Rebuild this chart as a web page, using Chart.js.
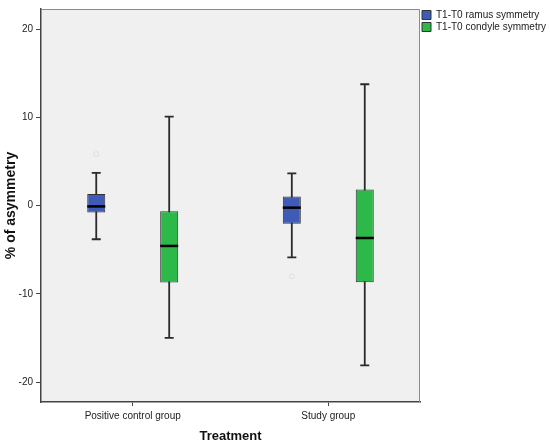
<!DOCTYPE html>
<html>
<head>
<meta charset="utf-8">
<script src="https://cdn.jsdelivr.net/npm/chart.js@4"></script>
<style>
  body { margin: 0; background: #fff; }
</style>
</head>
<body>
<canvas id="box-chart" width="550" height="448"></canvas>
<script>
// groups on the x axis
const groups = ['Positive control group', 'Study group'];
const groupIndex = [0, 1];
const yTicks = [-20, -10, 0, 10, 20];

// T1-T0 ramus symmetry
const ramusMin = [-3.8, -5.85];
const ramusQ1 = [-0.78, -2.04];
const ramusMedian = [-0.08, -0.22];
const ramusQ3 = [1.32, 1.05];
const ramusMax = [3.72, 3.67];
const ramusOutliers = [[5.85], [-8.0]];

// T1-T0 condyle symmetry
const condyleMin = [-14.97, -18.1];
const condyleQ1 = [-8.71, -8.67];
const condyleMedian = [-4.56, -3.66];
const condyleQ3 = [-0.64, 1.84];
const condyleMax = [10.1, 13.77];
const condyleOutliers = [[], []];

// background, frame, whiskers and medians drawn with the chart scales
const boxPlot = {
  id: 'boxPlot',
  beforeDraw(chart) {
    const {ctx, chartArea: a} = chart;
    ctx.save();
    ctx.fillStyle = '#f0f0f0';
    ctx.fillRect(a.left, a.top, a.right - a.left, a.bottom - a.top);
    ctx.restore();
  },
  beforeDatasetsDraw(chart) {
    const {ctx} = chart;
    const y = chart.scales.y;
    ctx.save();
    chart.data.datasets.forEach((ds, di) => {
      const meta = chart.getDatasetMeta(di);
      meta.data.forEach((bar, i) => {
        const cap = bar.width / 2;
        const top = y.getPixelForValue(ds.whiskerMax[i]);
        const bottom = y.getPixelForValue(ds.whiskerMin[i]);
        ctx.strokeStyle = '#2a2a2a';
        ctx.lineWidth = 1.8;
        ctx.beginPath();
        ctx.moveTo(bar.x, top);
        ctx.lineTo(bar.x, bottom);
        ctx.moveTo(bar.x - cap / 2, top);
        ctx.lineTo(bar.x + cap / 2, top);
        ctx.moveTo(bar.x - cap / 2, bottom);
        ctx.lineTo(bar.x + cap / 2, bottom);
        ctx.stroke();
        ds.outliers[i].forEach(v => {
          ctx.strokeStyle = '#e0e0e0';
          ctx.lineWidth = 1;
          ctx.beginPath();
          ctx.arc(bar.x, y.getPixelForValue(v), 2.5, 0, Math.PI * 2);
          ctx.stroke();
        });
      });
    });
    ctx.restore();
  },
  afterDatasetsDraw(chart) {
    const {ctx, chartArea: a} = chart;
    const y = chart.scales.y;
    ctx.save();
    chart.data.datasets.forEach((ds, di) => {
      const meta = chart.getDatasetMeta(di);
      meta.data.forEach((bar, i) => {
        const py = y.getPixelForValue(ds.median[i]);
        ctx.strokeStyle = '#000';
        ctx.lineWidth = 2.5;
        ctx.beginPath();
        ctx.moveTo(bar.x - bar.width / 2, py);
        ctx.lineTo(bar.x + bar.width / 2, py);
        ctx.stroke();
      });
    });
    ctx.strokeStyle = '#8a8a8a';
    ctx.lineWidth = 1;
    ctx.beginPath();
    ctx.moveTo(a.left, a.top + 0.5);
    ctx.lineTo(a.right - 0.5, a.top + 0.5);
    ctx.lineTo(a.right - 0.5, a.bottom);
    ctx.stroke();
    ctx.restore();
  }
};

const config = {
  type: 'bar',
  data: {
    datasets: [{
      label: 'T1-T0 ramus symmetry',
      data: groupIndex.map(i => ({x: i, y: [ramusQ1[i], ramusQ3[i]]})),
      whiskerMin: ramusMin,
      whiskerMax: ramusMax,
      median: ramusMedian,
      outliers: ramusOutliers,
      backgroundColor: '#3d5bb7',
      borderColor: '#333',
      borderWidth: 1,
      borderSkipped: false
    },
    {
      label: 'T1-T0 condyle symmetry',
      data: groupIndex.map(i => ({x: i, y: [condyleQ1[i], condyleQ3[i]]})),
      whiskerMin: condyleMin,
      whiskerMax: condyleMax,
      median: condyleMedian,
      outliers: condyleOutliers,
      backgroundColor: '#2db84a',
      borderColor: '#333',
      borderWidth: 1,
      borderSkipped: false
    }]
  },
  options: {
    responsive: false,
    animation: false,
    categoryPercentage: 0.746,
    barPercentage: 0.247,
    layout: { padding: { top: 8, left: 0, right: 0, bottom: 0 } },
    plugins: {
      tooltip: { enabled: false },
      legend: {
        position: 'right',
        align: 'start',
        maxWidth: 130,
        labels: {
          boxWidth: 9,
          boxHeight: 9,
          padding: 2,
          color: '#222',
          font: { family: 'Liberation Sans', size: 10 }
        }
      }
    },
    scales: {
      x: {
        type: 'linear',
        offset: false,
        min: -0.469,
        max: 1.469,
        afterBuildTicks: axis => { axis.ticks = groupIndex.map(v => ({value: v})); },
        afterFit: axis => { axis.height = 46; },
        grid: { offset: false, drawOnChartArea: false, drawTicks: true, tickLength: 4, tickColor: '#444' },
        border: { color: '#444', width: 1.5 },
        ticks: {
          padding: 4,
          maxRotation: 0,
          color: '#222',
          font: { family: 'Liberation Sans', size: 10 },
          callback: v => groups[v]
        },
        title: {
          display: true,
          text: 'Treatment',
          color: '#111',
          padding: { top: 0, bottom: 4 },
          font: { family: 'Liberation Sans', size: 13, weight: 'bold' }
        }
      },
      y: {
        min: -22.25,
        max: 22.3,
        afterBuildTicks: axis => { axis.ticks = yTicks.map(v => ({value: v})); },
        afterFit: axis => { axis.width = 41; },
        grid: { drawOnChartArea: false, drawTicks: true, tickLength: 5, tickColor: '#444' },
        border: { color: '#444', width: 1.5 },
        ticks: {
          padding: 3,
          color: '#222',
          font: { family: 'Liberation Sans', size: 10 }
        },
        title: {
          display: true,
          text: '% of asymmetry',
          color: '#111',
          padding: { top: 3, bottom: 0 },
          font: { family: 'Liberation Sans', size: 14, weight: 'bold' }
        }
      }
    }
  },
  plugins: [boxPlot]
};

const ctx = document.getElementById('box-chart').getContext('2d');
const myChart = new Chart(ctx, config);
</script>
</body>
</html>
